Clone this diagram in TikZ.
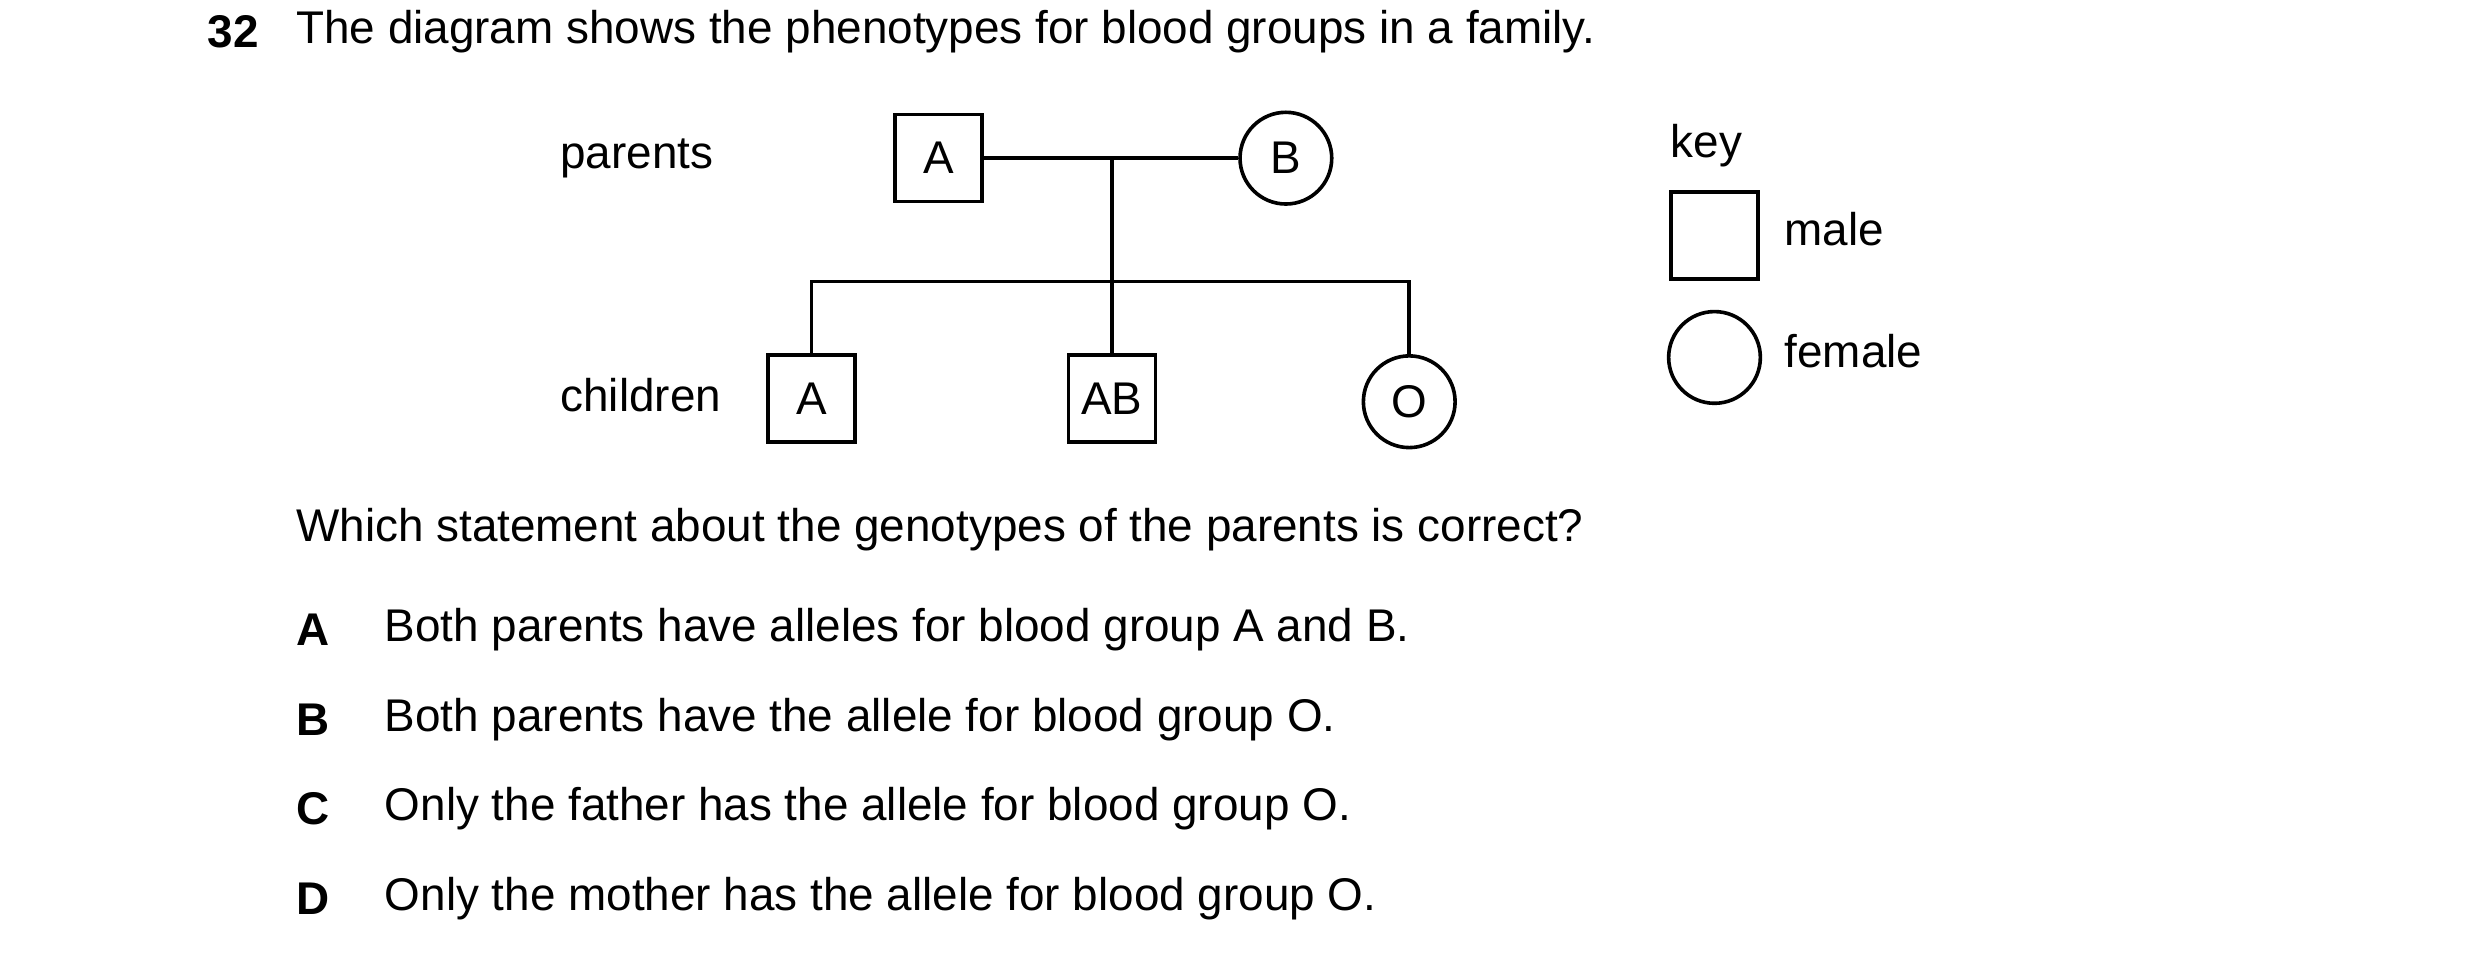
\documentclass[tikz,border=0pt]{standalone}
\usepackage{fontspec}
\setmainfont{Liberation Sans}
\begin{document}
\begin{tikzpicture}[x=0.02cm,y=-0.02cm,
  txt/.style={anchor=west,inner sep=0pt,font=\fontsize{16.5}{19}\selectfont},
  lbl/.style={txt,font=\fontsize{16.5}{19}\selectfont\bfseries},
  male/.style={draw,line width=1.3pt,minimum size=1.1cm,inner sep=0pt,font=\fontsize{16.5}{19}\selectfont},
  female/.style={draw,circle,line width=1.3pt,minimum size=1.16cm,inner sep=0pt,font=\fontsize{16.5}{19}\selectfont},
  ln/.style={line width=1.3pt}]
\useasboundingbox (0,0) rectangle (1568,609.5);
\node[lbl] (q) at (131,20) {32};
\node[txt] (qt) at (187,20) {The diagram shows the phenotypes for blood groups in a family.};
\node[txt] (lp) at (354,100) {parents};
\node[txt] (lc) at (354,250) {children};
\node[male] (fa) at (593.5,100) {A};
\node[female] (mo) at (813,100) {B};
\coordinate (j) at (703,100);
\coordinate (jb) at (703,178);
\coordinate (l) at (513,178);
\coordinate (r) at (891,178);
\node[male] (c1) at (513,252) {A};
\node[male] (c2) at (703,252) {AB};
\node[female] (c3) at (891,254) {O};
\draw[ln] (fa) -- (mo);
\draw[ln] (j) -- (jb);
\draw[ln,line cap=rect] (l) -- (r);
\draw[ln] (l) -- (c1);
\draw[ln] (jb) -- (c2);
\draw[ln] (r) -- (c3);
\node[txt] (key) at (1056,92) {key};
\node[male] (km) at (1084,149) {};
\node[female] (kf) at (1084,226) {};
\node[txt] (kmt) at (1128,145) {male};
\node[txt] (kft) at (1128,222) {female};
\node[txt] (qq) at (187,335) {Which statement about the genotypes of the parents is correct?};
\node[lbl] (oa) at (187,398) {A};
\node[txt] (ta) at (243,398) {Both parents have alleles for blood group A and B.};
\node[lbl] (ob) at (187,455) {B};
\node[txt] (tb) at (243,455) {Both parents have the allele for blood group O.};
\node[lbl] (oc) at (187,511) {C};
\node[txt] (tc) at (243,511) {Only the father has the allele for blood group O.};
\node[lbl] (od) at (187,568) {D};
\node[txt] (td) at (243,568) {Only the mother has the allele for blood group O.};
\end{tikzpicture}
\end{document}
